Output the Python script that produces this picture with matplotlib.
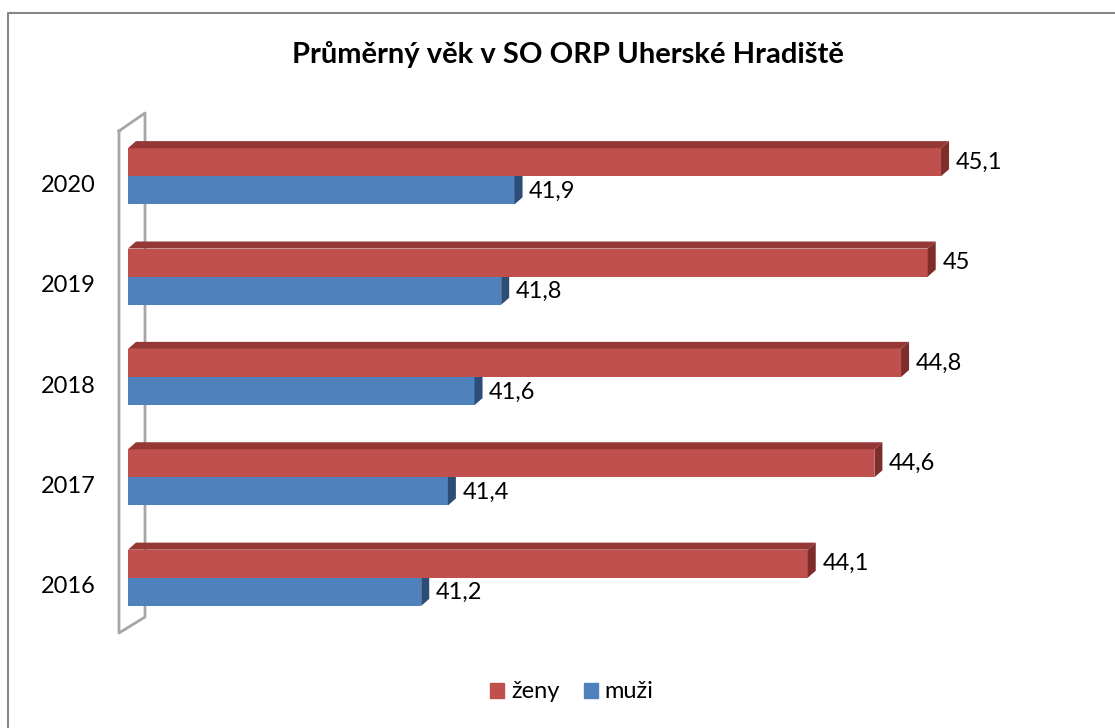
"""
Průměrný věk v SO ORP Uherské Hradiště - horizontal 3D-style bar chart.
"""

import matplotlib.pyplot as plt
from matplotlib.patches import Polygon, Rectangle
from matplotlib.lines import Line2D

plt.rcParams["font.family"] = ["Lato", "DejaVu Sans"]

years = ["2016", "2017", "2018", "2019", "2020"]
zeny = [44.1, 44.6, 44.8, 45.0, 45.1]
muzi = [41.2, 41.4, 41.6, 41.8, 41.9]
series_names = ["ženy", "muži"]

RED = "#C0504D"
RED_TOP = "#953735"
RED_SIDE = "#7E2D2B"
BLUE = "#4F81BD"
BLUE_SIDE = "#2C4D76"
WALL = "#A6A6A6"

W, H = 1115, 728
X_MIN, X_MAX = 39, 46
BAR_H = 0.28
DX = 0.06
DY = 0.07


def fmt(v):
    return f"{v:g}".replace(".", ",")


def px(x, y):
    """Pixel (from top-left) to figure fraction."""
    return x / W, 1 - y / H


fig = plt.figure(figsize=(W / 100, H / 100), dpi=100)

# axes spans value 39..46 horizontally, categories vertically
left, bottom = px(128, 638)
right, top = px(1061, 111)
ax = fig.add_axes([left, bottom, right - left, top - bottom])
ax.set_xlim(X_MIN, X_MAX)
ax.set_ylim(-0.6, 4.65)
ax.axis("off")

for i, (z, m) in enumerate(zip(zeny, muzi)):
    # blue bar (muži)
    ax.barh(i - BAR_H / 2, m - X_MIN, left=X_MIN, height=BAR_H,
            color=BLUE, edgecolor="none")
    ax.add_patch(Polygon([(m, i), (m + DX, i + DY), (m + DX, i - BAR_H + DY),
                          (m, i - BAR_H)], closed=True, color=BLUE_SIDE, lw=0))
    # red bar (ženy)
    ax.barh(i + BAR_H / 2, z - X_MIN, left=X_MIN, height=BAR_H,
            color=RED, edgecolor="none")
    ax.add_patch(Polygon([(X_MIN, i + BAR_H), (X_MIN + DX, i + BAR_H + DY),
                          (z + DX, i + BAR_H + DY), (z, i + BAR_H)],
                         closed=True, color=RED_TOP, lw=0))
    ax.add_patch(Polygon([(z, i + BAR_H), (z + DX, i + BAR_H + DY),
                          (z + DX, i + DY), (z, i)],
                         closed=True, color=RED_SIDE, lw=0))

    # data labels
    ax.text(z + 0.11, i + BAR_H / 2 + 0.0, fmt(z), fontsize=17,
            va="center", ha="left", color="black")
    ax.text(m + 0.11, i - BAR_H / 2 - 0.01, fmt(m), fontsize=17,
            va="center", ha="left", color="black")

    # year label
    ax.text(X_MIN - 0.24, i - 0.09, years[i], fontsize=17,
            va="center", ha="right", color="black")

# 3D side wall outline (behind the bars)
wall = [(119, 131), (145, 113), (145, 617), (119, 633), (119, 131)]
xs, ys = zip(*[px(x, y) for x, y in wall])
fig.add_artist(Line2D(xs, ys, color=WALL, lw=2, transform=fig.transFigure,
                      zorder=-1))

# title
fig.text(568 / W, 1 - 55 / H, "Průměrný věk v SO ORP Uherské Hradiště",
         fontsize=21, fontweight="bold", ha="center", va="center")

# legend
handles = [Rectangle((0, 0), 1, 1, color=RED), Rectangle((0, 0), 1, 1, color=BLUE)]
fig.legend(handles, series_names, loc="center", bbox_to_anchor=(572 / W, 1 - 692 / H),
           ncol=2, frameon=False, fontsize=17, handlelength=0.6, handleheight=0.6,
           handletextpad=0.3, columnspacing=1.0)

# chart border: only the top and left edges are visible in the crop
border = [(W, 13), (8, 13), (8, H)]
xs, ys = zip(*[px(x, y) for x, y in border])
fig.add_artist(Line2D(xs, ys, color="#868686", lw=1.5, transform=fig.transFigure))

fig.savefig("out.png", dpi=100)
